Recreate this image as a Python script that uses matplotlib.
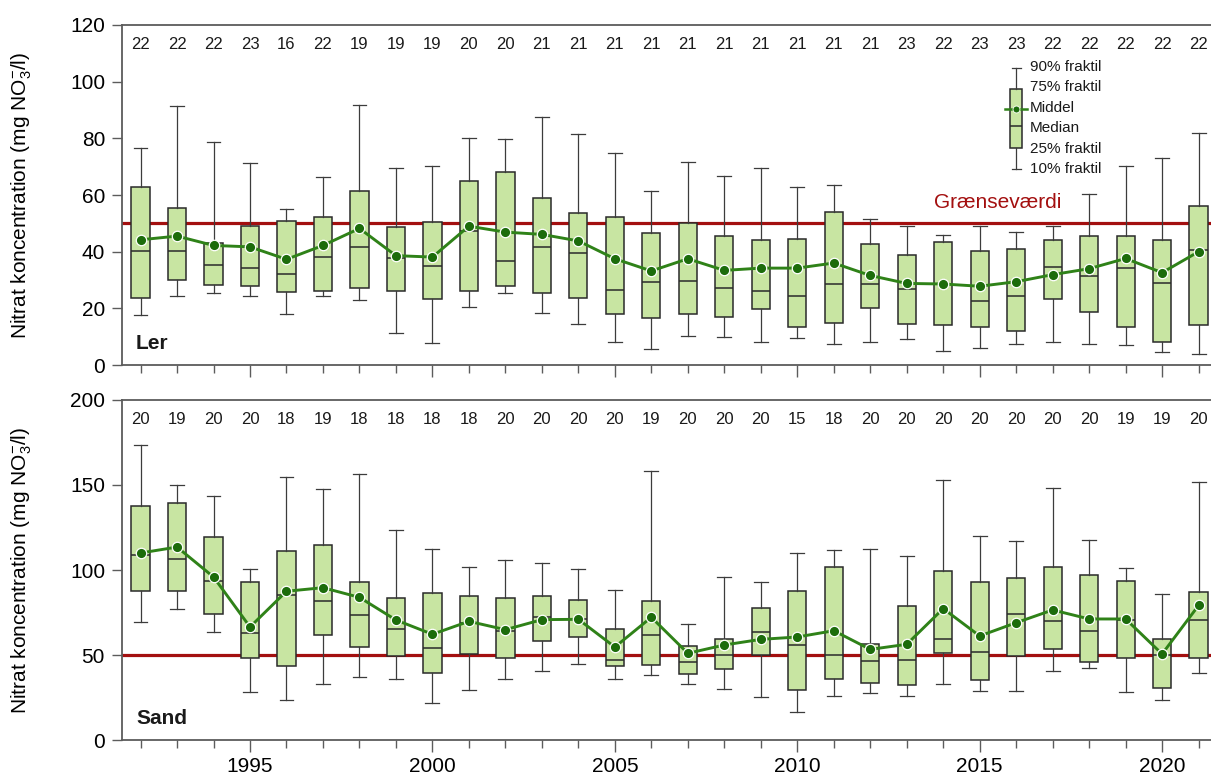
import matplotlib
matplotlib.use("Agg")
import matplotlib.pyplot as plt
from matplotlib.ticker import MultipleLocator

plt.rcParams.update({
    "font.family": ["Liberation Sans", "DejaVu Sans"],
    "mathtext.default": "regular",
    "text.color": "#1a1a1a",
})

# ---- data: percentiles, means and number of wells per year ----
years = list(range(1992, 2022))

ler_n = [22, 22, 22, 23, 16, 22, 19, 19, 19, 20, 20, 21, 21, 21, 21, 21, 21, 21, 21, 21,
         21, 23, 22, 23, 23, 22, 22, 22, 22, 22]
ler_p90 = [76.7, 91.4, 78.7, 71.4, 54.9, 66.5, 91.7, 69.4, 70.3, 80.1, 79.8, 87.5, 81.7, 74.7, 61.4,
           71.8, 66.7, 69.5, 62.7, 63.4, 51.4, 49.0, 46.0, 49.0, 47.1, 49.0, 60.4, 70.1, 73.1, 81.8]
ler_p75 = [62.9, 55.3, 43.2, 49.0, 50.9, 52.3, 61.5, 48.6, 50.6, 64.9, 68.0, 59.1, 53.7, 52.3, 46.6,
           50.2, 45.5, 44.2, 44.6, 54.1, 42.6, 38.7, 43.5, 40.4, 41.0, 44.2, 45.5, 45.5, 44.0, 56.0]
ler_mean = [44.2, 45.5, 42.2, 41.7, 37.3, 42.2, 48.2, 38.6, 38.1, 49.0, 46.9, 46.1, 43.8, 37.5, 33.2,
            37.5, 33.4, 34.2, 34.2, 36.0, 31.6, 28.8, 28.6, 27.8, 29.4, 31.9, 34.0, 37.6, 32.6, 40.0]
ler_median = [40.2, 40.2, 35.4, 34.2, 32.1, 38.2, 41.5, 37.7, 34.8, 47.3, 36.7, 41.6, 39.7, 26.5, 29.2,
              29.7, 27.3, 26.1, 24.2, 28.5, 28.5, 27.0, 28.5, 22.6, 24.2, 34.5, 31.5, 34.2, 28.8, 40.6]
ler_p25 = [23.7, 29.9, 28.1, 28.0, 25.6, 26.3, 27.3, 26.0, 23.2, 26.1, 27.8, 25.5, 23.6, 18.1, 16.5,
           18.1, 16.9, 19.9, 13.4, 15.0, 20.3, 14.5, 14.2, 13.4, 12.0, 23.3, 18.6, 13.4, 8.0, 14.3]
ler_p10 = [17.6, 24.2, 25.3, 24.5, 18.1, 24.5, 22.9, 11.4, 7.8, 20.6, 25.3, 18.3, 14.6, 8.3, 5.6,
           10.1, 9.9, 8.3, 9.4, 7.3, 8.2, 9.2, 5.0, 5.9, 7.3, 8.0, 7.6, 7.2, 4.7, 3.8]

sand_n = [20, 19, 20, 20, 18, 19, 18, 18, 18, 18, 20, 20, 20, 20, 19, 20, 20, 20, 15, 18,
          20, 20, 20, 20, 20, 20, 20, 19, 19, 20]
sand_p90 = [173.5, 149.8, 143.3, 100.4, 154.7, 147.6, 156.7, 123.5, 112.5, 101.9, 105.7, 104.3, 100.4,
            88.0, 158.4, 68.4, 95.7, 92.7, 110.0, 111.8, 112.2, 108.2, 153.1, 119.8, 117.3, 148.4,
            117.8, 101.4, 86.1, 151.6]
sand_p75 = [137.8, 139.4, 119.6, 92.7, 111.4, 114.9, 92.7, 83.3, 86.5, 84.5, 83.7, 84.5, 82.2, 65.1,
            81.8, 55.3, 59.2, 77.8, 87.8, 101.9, 56.3, 79.0, 99.4, 92.7, 95.1, 101.6, 97.1, 93.3,
            59.6, 87.1]
sand_mean = [110.0, 113.5, 95.9, 66.5, 87.5, 89.6, 83.9, 70.6, 62.2, 69.8, 64.9, 70.8, 71.0, 54.7,
             72.2, 51.0, 55.9, 59.2, 60.6, 64.3, 53.3, 56.3, 77.3, 61.2, 69.0, 76.5, 71.2, 71.2,
             50.6, 79.2]
sand_median = [109.0, 106.7, 93.7, 63.1, 85.1, 81.8, 73.7, 65.3, 54.3, 69.0, 64.0, 72.5, 71.0, 47.1,
               61.8, 46.1, 50.2, 63.5, 55.9, 49.8, 46.5, 47.1, 59.6, 51.6, 74.3, 70.2, 64.1, 70.5,
               50.0, 70.6]
sand_p25 = [87.8, 87.5, 74.3, 48.0, 43.5, 61.8, 54.5, 49.2, 39.6, 50.6, 48.0, 58.0, 60.6, 43.8,
            44.1, 38.8, 41.8, 50.0, 29.4, 35.7, 33.5, 32.4, 51.0, 35.3, 49.6, 53.3, 46.1, 48.0,
            30.4, 48.4]
sand_p10 = [69.4, 76.9, 63.3, 28.0, 23.5, 32.7, 36.9, 36.1, 21.9, 29.4, 36.1, 40.8, 44.9, 35.9,
            38.0, 33.1, 30.2, 25.1, 16.3, 25.9, 27.5, 25.9, 32.9, 29.0, 28.8, 40.4, 42.5, 28.4,
            23.4, 39.4]

LIMIT = 50  # grænseværdi, mg/l

# ---- colours ----
C_FILL = "#c8e5a2"
C_EDGE = "#2a2a2a"
C_WHISK = "#3c3c3c"
C_MEAN = "#2f8218"
C_DOT = "#1c6c0b"
C_LIMIT = "#a30f0f"
C_AXIS = "#5c5c5c"

YLABEL = "Nitrat koncentration (mg NO$_3^{-}$/l)"


def box_stats(p10, p25, med, mean, p75, p90):
    return [dict(whislo=a, q1=b, med=c, mean=d, q3=e, whishi=f, fliers=[])
            for a, b, c, d, e, f in zip(p10, p25, med, mean, p75, p90)]


def draw_boxes(ax, positions, stats, width, capw, zorder=2):
    ax.bxp(stats, positions=positions, widths=width, capwidths=capw,
           patch_artist=True, showfliers=False, showmeans=False, manage_ticks=False,
           boxprops=dict(facecolor=C_FILL, edgecolor=C_EDGE, linewidth=1.1),
           medianprops=dict(color=C_EDGE, linewidth=1.1),
           whiskerprops=dict(color=C_WHISK, linewidth=0.9),
           capprops=dict(color=C_WHISK, linewidth=0.9), zorder=zorder)


def panel(ax, p10, p25, med, mean, p75, p90, counts, ymax, ystep, name, show_years):
    ax.axhline(LIMIT, color=C_LIMIT, lw=2.3, zorder=1)
    draw_boxes(ax, years, box_stats(p10, p25, med, mean, p75, p90), 0.5, 0.38)
    ax.plot(years, mean, color=C_MEAN, lw=2.1, marker="o", ms=7.5,
            mfc=C_DOT, mec="white", mew=0.9, zorder=4)
    for x, n in zip(years, counts):
        ax.text(x, 0.944, str(n), transform=ax.get_xaxis_transform(),
                ha="center", va="center", fontsize=12)
    ax.text(0.013, 0.063, name, transform=ax.transAxes, fontsize=15,
            fontweight="bold", va="center", ha="left")

    ax.set_xlim(1991.49, 2021.34)
    ax.set_ylim(0, ymax)
    ax.yaxis.set_major_locator(MultipleLocator(ystep))
    ax.xaxis.set_major_locator(MultipleLocator(5))
    ax.xaxis.set_minor_locator(MultipleLocator(1))
    ax.tick_params(axis="y", length=7.2, width=1.0, color=C_AXIS, pad=5, labelsize=15)
    ax.tick_params(axis="x", which="major", length=8.4, width=1.0, color=C_AXIS,
                   pad=4, labelsize=15, labelbottom=show_years)
    ax.tick_params(axis="x", which="minor", length=5.5, width=1.0, color=C_AXIS)
    ax.spines["right"].set_visible(False)
    for s in ("left", "top", "bottom"):
        ax.spines[s].set_color(C_AXIS)
        ax.spines[s].set_linewidth(1.3)
    ax.set_ylabel(YLABEL, fontsize=15, labelpad=26)


fig = plt.figure(figsize=(12.11, 7.78), dpi=100)
ax1 = fig.add_axes([0.1007, 0.5308, 0.8993, 0.4371])
ax2 = fig.add_axes([0.1007, 0.0488, 0.8993, 0.4371])

panel(ax1, ler_p10, ler_p25, ler_median, ler_mean, ler_p75, ler_p90, ler_n,
      120, 20, "Ler", False)
panel(ax2, sand_p10, sand_p25, sand_median, sand_mean, sand_p75, sand_p90, sand_n,
      200, 50, "Sand", True)

ax1.text(2015.5, LIMIT + 7.5, "Grænseværdi", color=C_LIMIT, fontsize=15,
         ha="center", va="center")

# ---- key explaining the box symbols ----
key = ax1.inset_axes([0.811, 0.571, 0.0202, 0.309])
key.set_xlim(0, 1)
key.set_ylim(-0.02, 1.02)
key.axis("off")
draw_boxes(key, [0.5], [dict(whislo=0, q1=0.21, med=0.427, mean=0.596, q3=0.79,
                             whishi=1, fliers=[])], 0.52, 0.42)
key.plot([0, 1], [0.596, 0.596], color=C_MEAN, lw=1.8, zorder=4, clip_on=False)
key.plot([0.5], [0.596], "o", ms=5, mfc=C_DOT, mec="white", mew=0.6, zorder=5)
labels = ["90% fraktil", "75% fraktil", "Middel", "Median", "25% fraktil", "10% fraktil"]
for y, lab in zip([0.99, 0.795, 0.6, 0.405, 0.21, 0.015], labels):
    key.text(1.14, y, lab, transform=key.transAxes, fontsize=11, va="center", ha="left")

fig.savefig("out.png", dpi=100, facecolor="white")
